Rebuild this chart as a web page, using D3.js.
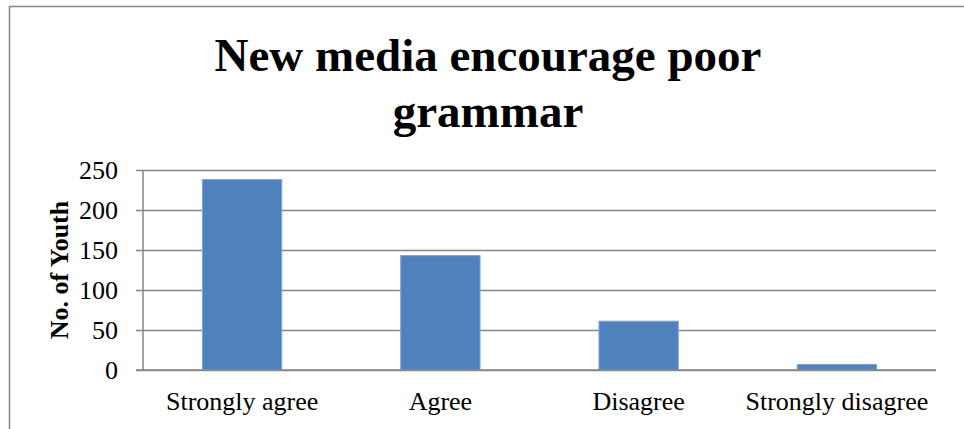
<!DOCTYPE html>
<html>
<head>
<meta charset="utf-8">
<script src="https://cdn.jsdelivr.net/npm/d3@7"></script>
<style>
  html, body { margin: 0; padding: 0; background: #fff; }
  svg { display: block; }
  text { font-family: "Liberation Serif", "Times New Roman", serif; fill: #000; }
</style>
</head>
<body>
<svg id="chart" width="964" height="429"></svg>
<script>
// Survey responses: number of youth per answer
const categories = ["Strongly agree", "Agree", "Disagree", "Strongly disagree"];
const counts = [238, 143, 61, 7];
const yTicks = [0, 50, 100, 150, 200, 250];
const titleLines = ["New media encourage poor", "grammar"];
const yTitle = "No. of Youth";

const svg = d3.select("#chart");
const W = 964, H = 429;

// outer chart frame (extends past the right and bottom edges)
svg.append("rect")
  .attr("x", 9.5).attr("y", 6.5)
  .attr("width", W + 20).attr("height", H + 20)
  .attr("fill", "#fff")
  .attr("stroke", "#868686").attr("stroke-width", 1.5);

const plot = { left: 143, right: 936, top: 170, bottom: 370 };

const x = d3.scaleBand()
  .domain(categories)
  .range([plot.left, plot.right])
  .paddingInner(0.6).paddingOuter(0.3);

const y = d3.scaleLinear()
  .domain([0, 250])
  .range([plot.bottom, plot.top]);

// horizontal gridlines with tick marks and labels
const yAxis = d3.axisLeft(y)
  .tickValues(yTicks)
  .tickSize(-(plot.right - plot.left))
  .tickSizeOuter(0)
  .tickPadding(25);

const gy = svg.append("g")
  .attr("transform", `translate(${plot.left},0)`)
  .call(yAxis);
gy.select(".domain").remove();
gy.selectAll(".tick line")
  .attr("x1", -7)
  .attr("stroke", "#868686").attr("stroke-width", 1.5);
gy.selectAll(".tick text")
  .attr("font-size", 26)
  .attr("font-family", "Liberation Serif, Times New Roman, serif")
  .attr("fill", "#000")
  .attr("dy", "0.34em");

// vertical axis line
svg.append("line")
  .attr("x1", plot.left).attr("x2", plot.left)
  .attr("y1", plot.top).attr("y2", plot.bottom)
  .attr("stroke", "#868686").attr("stroke-width", 1.5);

// bars
svg.append("g").selectAll("rect")
  .data(counts)
  .join("rect")
  .attr("x", (d, i) => x(categories[i]))
  .attr("width", x.bandwidth())
  .attr("y", d => y(d))
  .attr("height", d => y(0) - y(d))
  .attr("fill", "#4F81BD")
  .attr("stroke", "#7FA3D3").attr("stroke-width", 1);

// redraw the baseline over the bars
svg.append("line")
  .attr("x1", plot.left - 7).attr("x2", plot.right)
  .attr("y1", y(0)).attr("y2", y(0))
  .attr("stroke", "#868686").attr("stroke-width", 1.5);

// category labels
const xAxis = d3.axisBottom(x).tickSize(0).tickPadding(0);
const gx = svg.append("g")
  .attr("transform", `translate(0,${plot.bottom})`)
  .call(xAxis);
gx.select(".domain").remove();
gx.selectAll(".tick text")
  .attr("font-size", 26)
  .attr("font-family", "Liberation Serif, Times New Roman, serif")
  .attr("fill", "#000")
  .attr("y", 40)
  .attr("dy", 0);

// title
svg.append("text")
  .attr("x", 488).attr("y", 71)
  .attr("text-anchor", "middle")
  .attr("font-size", 47).attr("font-weight", "bold")
  .selectAll("tspan")
  .data(titleLines)
  .join("tspan")
  .attr("x", 488)
  .attr("dy", (d, i) => i === 0 ? 0 : 56)
  .text(d => d);

// y-axis title
svg.append("text")
  .attr("transform", `translate(68,${(plot.top + plot.bottom) / 2}) rotate(-90)`)
  .attr("text-anchor", "middle")
  .attr("font-size", 26).attr("font-weight", "bold")
  .text(yTitle);
</script>
</body>
</html>
